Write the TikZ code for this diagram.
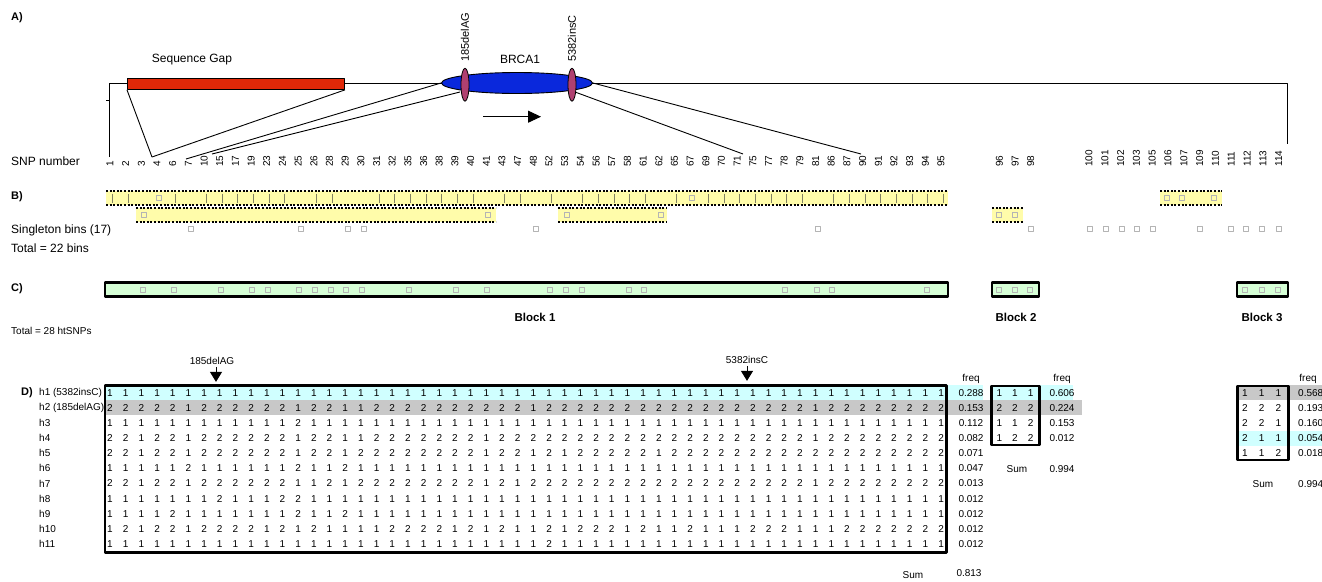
\documentclass[tikz,border=0pt]{standalone}
\usepackage{fontspec}
\setmainfont{Liberation Sans}
\usetikzlibrary{arrows.meta,shapes.geometric}
\definecolor{gapred}{RGB}{224,40,8}
\definecolor{geneblue}{RGB}{10,40,220}
\definecolor{mutmauve}{RGB}{176,64,112}
\definecolor{binyellow}{RGB}{255,252,170}
\definecolor{blockgreen}{RGB}{214,255,214}
\definecolor{hlcyan}{RGB}{208,255,255}
\definecolor{hlgray}{RGB}{200,200,200}
\definecolor{sqgray}{RGB}{180,180,180}
\definecolor{tickgray}{RGB}{130,130,100}
\tikzset{
  lbl/.style={font=\fontsize{12}{14}\selectfont,anchor=west,inner sep=0pt},
  panel/.style={font=\fontsize{11}{13}\selectfont\bfseries,anchor=west,inner sep=0pt},
  snplbl/.style={font=\fontsize{10}{12}\selectfont,rotate=90,anchor=west,inner sep=0pt},
  mutlbl/.style={font=\fontsize{11}{13}\selectfont,rotate=90,anchor=west,inner sep=0pt},
  tagsq/.style={draw=sqgray,line width=0.7pt,minimum size=5pt,inner sep=0pt},
  dotline/.style={line width=2pt,dash pattern=on 2pt off 1.6pt},
  blockbox/.style={draw,line width=2.5pt,fill=blockgreen},
  cell/.style={inner sep=0pt},
  blocklbl/.style={font=\fontsize{11.5}{13}\selectfont\bfseries,inner sep=0pt},
  mutarrow/.style={line width=1pt,-{Triangle[length=10pt,width=12pt]}},
}
\begin{document}
\begin{tikzpicture}[x=1pt,y=-1pt,line join=round,font=\fontsize{10}{12}\selectfont]
\useasboundingbox (0,0) rectangle (1322,581);
% A) BRCA1 map
\node[panel] (pA) at (11,18) {A)};
\node[lbl] (snpno) at (11,161) {SNP number};
\foreach \n [count=\c] in {1,2,3,4,6,7,10,15,17,19,23,24,25,26,28,29,30,31,32,35,36,38,39,40,41,43,47,48,52,53,54,56,57,58,61,62,65,67,69,70,71,75,77,78,79,81,86,87,90,91,92,93,94,95}
  \node[snplbl] (s\n) at ({110+(\c-1)*15.68},167) {\n};
\foreach \n [count=\c] in {96,97,98}
  \node[snplbl] (s\n) at ({999.5+(\c-1)*15.6},167) {\n};
\foreach \n [count=\c] in {100,101,102,103,105,106,107,109,110,111,112,113,114}
  \node[snplbl] (s\n) at ({1089+(\c-1)*15.8},167) {\n};
\draw[line width=0.9pt] (109,157) -- (109,83) -- (1287,83) -- (1287,144);
\draw[line width=0.6pt] (106,100) -- (109,100);
\node[draw,line width=0.9pt,fill=gapred,minimum width=217pt,minimum height=10.7pt,inner sep=0pt,anchor=north west] (gap) at (127,78.3) {};
\node[font=\fontsize{12}{14}\selectfont] (gaplbl) at (192,60) {Sequence Gap};
\coordinate (gapend) at (152,157);
\draw[line width=0.9pt] (gap.south west) -- (gapend) -- (gap.south east);
\coordinate (del185low) at (460,92);
\coordinate (ins5382low) at (575,92);
\coordinate (endA) at (186,159);
\coordinate (endB) at (212,154);
\coordinate (endC) at (743,154);
\coordinate (endD) at (861,154);
\node[ellipse,draw,line width=0.9pt,fill=geneblue,minimum width=151pt,minimum height=21pt,inner sep=0pt] (brca) at (517,83) {};
\draw[line width=0.9pt] (brca.west) -- (endA);
\draw[line width=0.9pt] (del185low) -- (endB);
\draw[line width=0.9pt] (ins5382low) -- (endC);
\draw[line width=0.9pt] (brca.east) -- (endD);
\node[font=\fontsize{12}{14}\selectfont] (brcalbl) at (520,59) {BRCA1};
\node[ellipse,draw,line width=0.8pt,fill=mutmauve,minimum width=8pt,minimum height=33pt,inner sep=0pt] (del185) at (465,84.7) {};
\node[ellipse,draw,line width=0.8pt,fill=mutmauve,minimum width=8pt,minimum height=33pt,inner sep=0pt] (ins5382) at (572,84.7) {};
\node[mutlbl] (del185lbl) at ([yshift=6pt]del185.north) {185delAG};
\node[mutlbl] (ins5382lbl) at ([yshift=6pt]ins5382.north) {5382insC};
\coordinate (dirA) at (483,116.7);
\coordinate (dirB) at (541,116.7);
\draw[line width=1pt,-{Triangle[length=13pt,width=12pt]}] (dirA) -- (dirB);
% B) bins
\node[panel] (pB) at (11,197) {B)};
\node[lbl] (single) at (11,230) {Singleton bins (17)};
\node[lbl] (nbins) at (11,248) {Total = 22 bins};
\foreach \xa/\xb/\ya/\yb in {106/948/191/205,136/496/207.7/222,558/667/207.7/222,992/1023/207.7/222,1160/1222/191/205}{
  \fill[binyellow] (\xa,\ya) rectangle (\xb,\yb);
  \draw[dotline] (\xa,\ya) -- (\xb,\ya) (\xa,\yb) -- (\xb,\yb);}
\foreach \i in {1,2,5,7,8,9,10,11,12,14,15,18,19,20,21,22,23,24,26,27,29,31,32,33,34,35,37,39,40,41,42,43,44,45,47,48,49,50,51,52,53,54}
  \draw[tickgray,line width=1pt] ({112.5+(\i-1)*15.68},193.5) -- ++(0,9);
\foreach \i in {4,38}
  \node[tagsq] (bt\i) at ({112+(\i-1)*15.68},197.5) {};
\foreach \i in {3,25,30,36}
  \node[tagsq] (bm\i) at ({112+(\i-1)*15.68},214.5) {};
\foreach \x in {999,1015}
  \node[tagsq] (bm\x) at (\x,214.5) {};
\foreach \x in {1167,1182,1214}
  \node[tagsq] (bt\x) at (\x,197.5) {};
\foreach \i in {6,13,16,17,28,46}
  \node[tagsq] (bs\i) at ({112.5+(\i-1)*15.68},229) {};
\foreach \x in {1031,1090,1106,1122,1137,1153,1200,1231,1246,1262,1279}
  \node[tagsq] (bs\x) at (\x,229) {};
% C) blocks
\node[panel] (pC) at (11,289) {C)};
\draw[blockbox] (105,282.3) rectangle (948,296.7);
\draw[blockbox] (992,282.3) rectangle (1039,296.7);
\draw[blockbox] (1237,282.3) rectangle (1288,296.7);
\foreach \i in {3,5,8,10,11,13,14,15,16,17,20,23,25,29,30,31,34,35,44,46,47,53}
  \node[tagsq] (c\i) at ({111+(\i-1)*15.68},289.5) {};
\foreach \x in {999,1015,1030,1245,1261.7,1278}
  \node[tagsq] (c\x) at (\x,289.5) {};
\node[blocklbl] (blk1) at (535,317) {Block 1};
\node[blocklbl] (blk2) at (1016,317) {Block 2};
\node[blocklbl] (blk3) at (1262,317) {Block 3};
\node[font=\fontsize{10}{12}\selectfont,anchor=west,inner sep=0pt] (nht) at (11,331) {Total = 28 htSNPs};
% D) haplotypes
\node[panel] (pD) at (21,393) {D)};
\fill[hlcyan] (105,385.1) rectangle (983,400.3);
\fill[hlgray] (105,400.3) rectangle (1082,415.4);
\fill[hlcyan] (992,385.1) rectangle (1073,400.3);
\fill[hlgray] (1237,385.1) rectangle (1322,400.3);
\fill[hlcyan] (1237,430.5) rectangle (1322,445.6);
\foreach \row [count=\r] in {
 {1,1,1,1,1,1,1,1,1,1,1,1,1,1,1,1,1,1,1,1,1,1,1,1,1,1,1,1,1,1,1,1,1,1,1,1,1,1,1,1,1,1,1,1,1,1,1,1,1,1,1,1,1,1},
 {2,2,2,2,2,1,2,2,2,2,2,2,1,2,2,1,1,2,2,2,2,2,2,2,2,2,2,1,2,2,2,2,2,2,2,2,2,2,2,2,2,2,2,2,2,1,2,2,2,2,2,2,2,2},
 {1,1,1,1,1,1,1,1,1,1,1,1,2,1,1,1,1,1,1,1,1,1,1,1,1,1,1,1,1,1,1,1,1,1,1,1,1,1,1,1,1,1,1,1,1,1,1,1,1,1,1,1,1,1},
 {2,2,1,2,2,1,2,2,2,2,2,2,1,2,2,1,1,2,2,2,2,2,2,2,1,2,2,2,2,2,2,2,2,2,2,2,2,2,2,2,2,2,2,2,2,1,2,2,2,2,2,2,2,2},
 {2,2,1,2,2,1,2,2,2,2,2,2,1,2,2,1,2,2,2,2,2,2,2,2,1,2,2,1,2,1,2,2,2,2,2,1,2,2,2,2,2,2,2,2,2,2,2,2,2,2,2,2,2,2},
 {1,1,1,1,1,2,1,1,1,1,1,1,2,1,1,2,1,1,1,1,1,1,1,1,1,1,1,1,1,1,1,1,1,1,1,1,1,1,1,1,1,1,1,1,1,1,1,1,1,1,1,1,1,1},
 {2,2,1,2,2,1,2,2,2,2,2,2,1,1,2,1,2,2,2,2,2,2,2,2,1,2,1,2,2,2,2,2,2,2,2,2,2,2,2,2,2,2,2,2,2,1,2,2,2,2,2,2,2,2},
 {1,1,1,1,1,1,1,2,1,1,1,2,2,1,1,1,1,1,1,1,1,1,1,1,1,1,1,1,1,1,1,1,1,1,1,1,1,1,1,1,1,1,1,1,1,1,1,1,1,1,1,1,1,1},
 {1,1,1,1,2,1,1,1,1,1,1,1,2,1,1,2,1,1,1,1,1,1,1,1,1,1,1,1,1,1,1,1,1,1,1,1,1,1,1,1,1,1,1,1,1,1,1,1,1,1,1,1,1,1},
 {1,2,1,2,2,1,2,2,2,2,1,2,1,2,1,1,1,1,2,2,2,2,1,2,1,2,1,1,2,1,2,2,2,1,2,1,1,2,1,1,1,2,2,2,1,1,1,2,2,2,2,2,2,2},
 {1,1,1,1,1,1,1,1,1,1,1,1,1,1,1,1,1,1,1,1,1,1,1,1,1,1,1,1,2,1,1,1,1,1,1,1,1,1,1,1,1,1,1,1,1,1,1,1,1,1,1,1,1,1}}
  \foreach \v [count=\c] in \row
    \node[cell] (d\r-\c) at ({110+(\c-1)*15.68},{392.7+(\r-1)*15.13}) {\v};
\foreach \h/\f [count=\r] in {h1 (5382insC)/0.288,h2 (185delAG)/0.153,h3/0.112,h4/0.082,h5/0.071,h6/0.047,h7/0.013,h8/0.012,h9/0.012,h10/0.012,h11/0.012}{
  \node[cell,anchor=west] (h\r) at (39,{392.7+(\r-1)*15.13}) {\h};
  \node[cell] (f\r) at (971,{392.7+(\r-1)*15.13}) {\f};}
\draw[line width=2.5pt] (105,385.7) rectangle (946.7,552.3);
\node[cell] (freq1) at (971,379) {freq};
\node[cell] (sum1) at (913,575) {Sum};
\node[cell] (tot1) at (969,573) {0.813};
\node[cell] (del185t) at (212,361) {185delAG};
\node[cell] (ins5382t) at (747,360) {5382insC};
\draw[mutarrow] ([xshift=4pt,yshift=-2pt]del185t.south) -- ++(0,15);
\draw[mutarrow] ([yshift=-2pt]ins5382t.south) -- ++(0,15);
% block 2
\foreach \a/\b/\c/\f [count=\r] in {1/1/1/0.606,2/2/2/0.224,1/1/2/0.153,1/2/2/0.012}{
  \node[cell] (e\r-1) at (999.3,{392.7+(\r-1)*15}) {\a};
  \node[cell] (e\r-2) at (1015,{392.7+(\r-1)*15}) {\b};
  \node[cell] (e\r-3) at (1030.7,{392.7+(\r-1)*15}) {\c};
  \node[cell] (g\r) at (1062,{392.7+(\r-1)*15}) {\f};}
\draw[line width=2.5pt] (991.7,386) rectangle (1039.3,445);
\node[cell] (freq2) at (1062,379) {freq};
\node[cell] (sum2) at (1017,469) {Sum};
\node[cell] (tot2) at (1062,469) {0.994};
% block 3
\foreach \a/\b/\c/\f [count=\r] in {1/1/1/0.568,2/2/2/0.193,2/2/1/0.160,2/1/1/0.054,1/1/2/0.018}{
  \node[cell] (k\r-1) at (1245,{392.7+(\r-1)*15}) {\a};
  \node[cell] (k\r-2) at (1261.7,{392.7+(\r-1)*15}) {\b};
  \node[cell] (k\r-3) at (1278.3,{392.7+(\r-1)*15}) {\c};
  \node[cell,anchor=west] (m\r) at (1298,{392.7+(\r-1)*15}) {\f};}
\draw[line width=2.5pt] (1237.3,386) rectangle (1288.3,460);
\node[cell] (freq3) at (1308,379) {freq};
\node[cell] (sum3) at (1263,484) {Sum};
\node[cell,anchor=west] (tot3) at (1298,484) {0.994};
\end{tikzpicture}
\end{document}
